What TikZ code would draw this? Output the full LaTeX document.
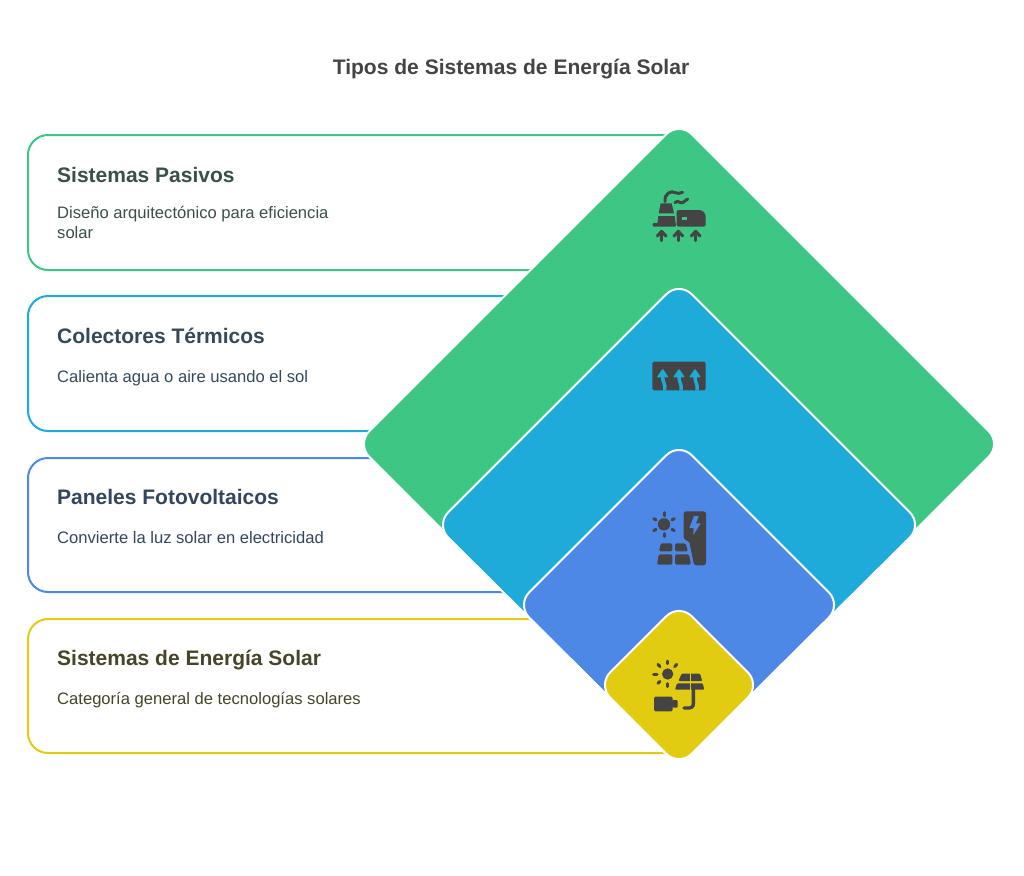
\documentclass[tikz,border=0pt]{standalone}
\usepackage{fontspec}
\setmainfont{Liberation Sans}
\definecolor{cgreen}{HTML}{3EC685}
\definecolor{cblue}{HTML}{1FABDA}
\definecolor{cindigo}{HTML}{4E88E7}
\definecolor{cyellow}{HTML}{E1CC12}
\definecolor{ink}{HTML}{444444}
\definecolor{hgreen}{HTML}{3A5046}
\definecolor{hblue}{HTML}{34495A}
\definecolor{hindigo}{HTML}{34465E}
\definecolor{hyellow}{HTML}{474527}
\tikzset{
  panelbox/.style={line width=2pt,rounded corners=20pt,fill=white},
  gem/.style={draw=white,line width=2pt,rounded corners=18pt},
  titletext/.style={anchor=base,font=\fontsize{21.05}{24}\selectfont\bfseries,text=ink,inner sep=0pt},
  headtext/.style={anchor=base west,font=\fontsize{21}{24}\selectfont\bfseries,inner sep=0pt},
  bodytext/.style={anchor=base west,font=\fontsize{16.6}{20}\selectfont,inner sep=0pt,align=left},
  glyph/.style={fill=ink,draw=none},
  glyphline/.style={draw=ink,line width=3pt,line cap=round,line join=round},
}
\begin{document}
\begin{tikzpicture}[x=1pt,y=-1pt]
\useasboundingbox (0,0) rectangle (1024,875);
\fill[white] (0,0) rectangle (1024,875);
\node[titletext] (title) at (511,74.5) {Tipos de Sistemas de Energía Solar};
% boxes
\draw[panelbox,draw=cgreen] (679,135) -- (28,135) -- (28,270) -- (679,270);
\draw[panelbox,draw=cblue] (679,296) -- (28,296) -- (28,431) -- (679,431);
\draw[panelbox,draw=cindigo] (679,458) -- (28,458) -- (28,592) -- (679,592);
\draw[panelbox,draw=cyellow] (679,619) -- (28,619) -- (28,753) -- (679,753);
% diamonds
\path[gem,fill=cgreen] (679,121.5) -- (1001.5,444) -- (679,766.5) -- (356.5,444) -- cycle;
\path[gem,fill=cblue] (679,281.5) -- (922.5,525) -- (679,766.5) -- (435.5,525) -- cycle;
\path[gem,fill=cindigo] (679,442.5) -- (841.5,605) -- (679,766.5) -- (516.5,605) -- cycle;
\path[gem,fill=cyellow] (679,603.5) -- (760.5,685) -- (679,766.5) -- (597.5,685) -- cycle;
% texts
\node[headtext,text=hgreen] (h1) at (57,182) {Sistemas Pasivos};
\node[bodytext,text=hgreen] (b1) at (57,218) {Diseño arquitectónico para eficiencia};
\node[bodytext,text=hgreen] (b1b) at (57,238) {solar};
\node[headtext,text=hblue] (h2) at (57,343) {Colectores Térmicos};
\node[bodytext,text=hblue] (b2) at (57,382) {Calienta agua o aire usando el sol};
\node[headtext,text=hindigo] (h3) at (57,504) {Paneles Fotovoltaicos};
\node[bodytext,text=hindigo] (b3) at (57,543) {Convierte la luz solar en electricidad};
\node[headtext,text=hyellow] (h4) at (57,665) {Sistemas de Energía Solar};
\node[bodytext,text=hyellow] (b4) at (57,704) {Categoría general de tecnologías solares};
% icon 1
\begin{scope}[shift={(630,170)},scale=1/3]
  \fill[glyph] (92,100) -- (125,100) -- (132,130) -- (86,130) -- cycle;
  \fill[glyph] (85,138) -- (134,138) -- (137,162) -- (82,162) -- cycle;
  \fill[glyph,rounded corners=1pt] (68,159) rectangle (138,170);
  \fill[glyph,rounded corners=2pt] (140,120) -- (215,120) -- (227,132) -- (227,170) -- (140,170) -- cycle;
  \fill[cgreen] (155,141) rectangle (172,150);
  \draw[glyphline] (105,95) .. controls (102,70) and (125,60) .. (135,68) .. controls (142,72) and (150,70) .. (158,67);
  \draw[glyphline] (135,98) .. controls (145,88) and (150,102) .. (158,98) .. controls (165,95) and (168,92) .. (173,87);
  \foreach \ax in {95,145,197}{
    \draw[glyphline] (\ax,212) -- (\ax,185);
    \draw[glyphline] (\ax-13,198) -- (\ax,184) -- (\ax+13,198);
  }
\end{scope}
% icon 2
\begin{scope}[shift={(630,345)},scale=1/3]
  \fill[glyph,rounded corners=1.5pt] (67,50) rectangle (227,136);
  \foreach \ax in {98,147,195}{
    \fill[cblue,rounded corners=1pt] (\ax-18,97) -- (\ax,71) -- (\ax+18,97) -- cycle;
    \draw[cblue,line width=3.4pt] (\ax,94) .. controls (\ax-2,108) and (\ax+10,118) .. (\ax+6,136);
  }
\end{scope}
% icon 3
\begin{scope}[shift={(630,500)},scale=1/3]
  \fill[glyph] (102,73) circle (18.5);
  \foreach \ra/\rb/\rc/\rd in {102/38/102/47, 102/101/102/110, 71/56/78/60, 133/56/126/60, 71/92/78/88, 133/92/126/88}{
    \draw[glyphline] (\ra,\rb) -- (\rc,\rd);
  }
  \fill[glyph,rounded corners=1.5pt] (92,130) -- (127,130) -- (127,154) -- (87,154) -- cycle;
  \fill[glyph,rounded corners=1.5pt] (135,130) -- (167,130) -- (174,154) -- (135,154) -- cycle;
  \fill[glyph,rounded corners=1.5pt] (86,163) -- (127,163) -- (127,194) -- (81,194) -- cycle;
  \fill[glyph,rounded corners=1.5pt] (135,163) -- (177,163) -- (183,194) -- (135,194) -- cycle;
  \fill[glyph,rounded corners=2.5pt] (161,34) -- (228,34) -- (228,196) -- (192,196) -- (180,135) .. controls (177,124) and (170,122) .. (161,118) -- cycle;
  \fill[cindigo] (192,48) -- (178,84) -- (191,84) -- (190,105) -- (212,70) -- (198,70) -- (206,48) -- cycle;
\end{scope}
% icon 4
\begin{scope}[shift={(630,650)},scale=1/3]
  \fill[glyph] (113,72) circle (17);
  \foreach \ra/\rb/\rc/\rd in {112/33/112/41, 112/101/112/110, 84/43/90/50, 140/43/134/50, 71/72/81/72, 84/100/90/94}{
    \draw[glyphline] (\ra,\rb) -- (\rc,\rd);
  }
  \fill[glyph,rounded corners=1pt] (155,71) -- (210,71) -- (217,93) -- (145,93) -- cycle;
  \fill[glyph,rounded corners=1pt] (141,100) -- (218,100) -- (223,119) -- (135,119) -- cycle;
  \draw[cyellow,line width=1.2pt] (181,70) -- (181,120);
  \draw[glyphline,line width=3.4pt] (190,118) -- (190,160) .. controls (190,170) and (185,174) .. (178,174) -- (162,174);
  \fill[glyph,rounded corners=1.5pt] (72,140) rectangle (128,184);
  \fill[glyph,rounded corners=1pt] (126,150) rectangle (143,173);
\end{scope}
\end{tikzpicture}
\end{document}
